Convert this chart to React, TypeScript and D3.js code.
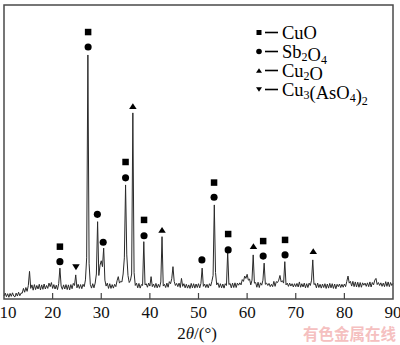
import { useEffect, useRef } from 'react';
import * as d3 from 'd3';

// XRD intensities, 2θ from 10° to 90° in steps of 0.25° (one row = 5°)
const thetaStart = 10;
const thetaStep = 0.25;
const intensity: number[] = [
  1.0, 2.0, 0.8, 1.8, 0.6, 1.9, 0.9, 2.1, 1.0, 0.7, 2.0, 1.0, 2.3, 1.1, 2.0, 2.0, 3.6, 2.3, 3.9, 2.6,
  4.6, 9.4, 3.6, 4.8, 3.0, 4.9, 3.2, 4.6, 3.4, 5.0, 3.1, 4.8, 3.3, 5.1, 3.4, 4.6, 3.6, 5.4, 4.2, 5.6,
  3.6, 4.9, 3.4, 4.7, 3.2, 5.2, 10.5, 4.4, 3.3, 4.8, 3.4, 4.9, 3.2, 4.8, 3.1, 4.9, 3.5, 5.3, 4.6, 8.2,
  3.8, 5.0, 3.6, 4.9, 3.5, 5.0, 4.2, 6.5, 14.0, 83.0, 12.0, 5.0, 3.7, 5.2, 3.8, 5.4, 8.5, 26.3, 8.0, 11.5,
  13.0, 11.0, 17.3, 6.4, 4.4, 5.4, 3.6, 5.2, 3.6, 4.9, 3.7, 5.0, 4.2, 6.2, 7.6, 5.4, 6.0, 5.8, 8.5, 14.0,
  38.8, 15.0, 8.0, 5.6, 6.3, 8.5, 63.3, 9.0, 4.6, 5.4, 3.8, 5.3, 3.7, 4.9, 4.6, 19.5, 4.8, 5.2, 4.0, 5.4,
  4.4, 7.6, 4.2, 5.1, 3.9, 5.3, 3.8, 5.0, 4.0, 5.8, 21.2, 4.4, 5.0, 3.9, 5.4, 4.0, 5.9, 5.2, 6.9, 11.0,
  6.0, 4.6, 5.3, 4.2, 5.4, 3.9, 7.0, 4.3, 5.2, 3.8, 5.0, 3.7, 4.8, 3.6, 5.3, 3.8, 5.2, 3.7, 5.1, 3.9,
  5.2, 3.8, 5.3, 10.5, 4.3, 5.1, 3.9, 5.0, 3.8, 5.2, 4.4, 6.0, 8.0, 32.0, 9.0, 4.8, 5.5, 3.9, 5.2, 3.8,
  5.1, 3.7, 5.2, 4.6, 16.0, 4.9, 5.3, 3.8, 5.4, 3.9, 5.5, 3.9, 5.4, 4.7, 5.5, 4.8, 6.6, 6.0, 7.8, 7.0,
  8.4, 6.4, 6.8, 4.8, 6.4, 15.0, 5.4, 5.6, 4.0, 5.7, 3.9, 5.5, 4.7, 6.4, 12.2, 5.0, 5.4, 4.6, 5.3, 4.2,
  5.0, 4.2, 6.0, 4.3, 5.9, 5.6, 6.4, 8.0, 5.8, 6.2, 5.4, 12.7, 4.8, 5.4, 4.3, 5.4, 4.4, 5.2, 4.1, 5.2,
  4.2, 5.3, 4.1, 5.8, 4.0, 5.2, 4.1, 5.4, 3.8, 5.2, 3.9, 5.4, 4.6, 6.4, 13.3, 4.9, 5.3, 3.8, 5.4, 3.9,
  5.0, 3.7, 5.1, 3.9, 5.2, 3.6, 5.1, 3.7, 5.3, 3.8, 5.2, 3.6, 5.1, 3.5, 5.0, 4.2, 5.1, 3.9, 5.0, 4.0,
  5.1, 4.2, 6.0, 7.8, 5.4, 6.0, 4.4, 6.0, 4.2, 5.8, 4.1, 5.7, 4.0, 5.6, 4.0, 5.5, 4.7, 5.4, 4.3, 5.5,
  4.2, 5.8, 4.1, 5.6, 4.8, 6.4, 7.0, 4.9, 5.6, 4.6, 5.5, 4.3, 5.4, 4.2, 5.9, 4.3, 5.8, 4.2, 5.6, 4.6,
  5.3,
];

// phases: symbol + label parts [text, subscript]
const phaseSymbols = ['square', 'circle', 'triangle', 'triangleDown'];
const phaseLabels = [
  [['Cu', ''], ['O', '']],
  [['Sb', '2'], ['O', '4']],
  [['Cu', '2'], ['O', '']],
  [['Cu', '3'], ['(AsO', '4'], [')', '2']],
];

// peak markers: 2θ, phase index, height level (intensity units)
const markTheta = [21.5, 21.5, 24.8, 27.3, 27.3, 29.2, 30.4, 35.0, 35.0, 36.5, 38.8, 38.8, 42.5, 50.7, 53.2, 53.2, 56.1, 56.1, 61.3, 63.3, 63.3, 67.8, 67.8, 73.6];
const markPhase = [0, 1, 3, 0, 1, 1, 1, 0, 1, 2, 0, 1, 2, 1, 0, 1, 0, 1, 2, 0, 1, 0, 1, 2];
const markLevel = [17.8, 12.7, 10.8, 90.8, 85.7, 28.8, 19.3, 46.6, 41.2, 65.6, 26.9, 21.5, 23.5, 13.3, 39.6, 34.6, 22.1, 16.7, 18.0, 19.7, 14.6, 20.1, 15.0, 16.3];

const xTicks = [10, 20, 30, 40, 50, 60, 70, 80, 90];

const W = 400;
const H = 345;
const serif = "'Liberation Serif', 'Times New Roman', Times, serif";

function drawSymbol(g: any, kind: string, cx: number, cy: number, s: number) {
  if (kind === 'square') {
    g.append('rect').attr('x', cx - s / 2).attr('y', cy - s / 2).attr('width', s).attr('height', s).attr('fill', '#000');
  } else if (kind === 'circle') {
    g.append('circle').attr('cx', cx).attr('cy', cy).attr('r', s / 2 + 0.3).attr('fill', '#000');
  } else if (kind === 'triangle') {
    const h = s * 0.9;
    g.append('path').attr('d', `M${cx - s / 2 - 0.5},${cy + h / 2}L${cx + s / 2 + 0.5},${cy + h / 2}L${cx},${cy - h / 2}Z`).attr('fill', '#000');
  } else {
    const h = s * 0.9;
    g.append('path').attr('d', `M${cx - s / 2 - 0.5},${cy - h / 2}L${cx + s / 2 + 0.5},${cy - h / 2}L${cx},${cy + h / 2}Z`).attr('fill', '#000');
  }
}

const App = () => {
  const svgRef = useRef<SVGSVGElement>(null);

  useEffect(() => {
    const svg = d3.select(svgRef.current);
    svg.selectAll('*').remove();

    const left = 4, right = 393, top = 5, bottom = 299;

    const x = d3.scaleLinear().domain([10, 90]).range([left, right]);
    const y = d3.scaleLinear().domain([0, 100]).range([bottom, top]);

    const data = intensity.map((v, i) => ({ t: thetaStart + i * thetaStep, v }));

    // curve
    const line = d3.line<{ t: number; v: number }>()
      .x(d => x(d.t))
      .y(d => y(d.v));

    svg.append('path')
      .datum(data)
      .attr('fill', 'none')
      .attr('stroke', '#2a2a2a')
      .attr('stroke-width', 1)
      .attr('d', line);

    // frame
    svg.append('rect')
      .attr('x', left).attr('y', top)
      .attr('width', right - left).attr('height', bottom - top)
      .attr('fill', 'none')
      .attr('stroke', '#4a4a4a')
      .attr('stroke-width', 1.5);

    // ticks pointing inward
    const axis = svg.append('g');
    xTicks.forEach((t, i) => {
      if (i > 0 && i < xTicks.length - 1) {
        axis.append('line')
          .attr('x1', x(t)).attr('x2', x(t))
          .attr('y1', bottom).attr('y2', bottom - 6)
          .attr('stroke', '#444').attr('stroke-width', 1.2);
      }
      axis.append('text')
        .attr('x', Math.max(x(t), 8))
        .attr('y', 318)
        .attr('text-anchor', 'middle')
        .attr('font-family', serif)
        .attr('font-size', 17)
        .attr('fill', '#111')
        .text(t);
    });

    // axis title 2θ/(°)
    const title = svg.append('text')
      .attr('x', 197)
      .attr('y', 339)
      .attr('text-anchor', 'middle')
      .attr('font-family', serif)
      .attr('font-size', 17)
      .attr('fill', '#111');
    title.append('tspan').text('2');
    title.append('tspan').attr('font-style', 'italic').text('θ');
    title.append('tspan').text('/(°)');

    // peak markers
    const marks = svg.append('g');
    markTheta.forEach((t, i) => {
      drawSymbol(marks, phaseSymbols[markPhase[i]], x(t), y(markLevel[i]), 6.5);
    });

    // legend
    const lg = svg.append('g');
    phaseLabels.forEach((parts, i) => {
      const cy = 32.5 + i * 19;
      drawSymbol(lg, phaseSymbols[i], 259, cy, 5);
      lg.append('line')
        .attr('x1', 265).attr('x2', 278)
        .attr('y1', cy).attr('y2', cy)
        .attr('stroke', '#000').attr('stroke-width', 1.6);
      const txt = lg.append('text')
        .attr('x', 282)
        .attr('y', cy + 6)
        .attr('font-family', serif)
        .attr('font-size', 18.5)
        .attr('fill', '#000');
      parts.forEach(([base, sub]) => {
        txt.append('tspan').text(base);
        if (sub) {
          txt.append('tspan').attr('dy', 3).attr('font-size', 12).text(sub);
          txt.append('tspan').attr('dy', -3).text('');
        }
      });
    });

    // watermark
    svg.append('text')
      .attr('x', 396)
      .attr('y', 339.5)
      .attr('text-anchor', 'end')
      .attr('font-family', "'Noto Sans CJK SC', sans-serif")
      .attr('font-size', 15.5)
      .attr('font-weight', 'bold')
      .attr('fill', '#f5c0c0')
      .text('有色金属在线');
  }, []);

  return (
    <svg
      ref={svgRef}
      width={W}
      height={H}
      style={{ position: 'absolute', left: 0, top: 0, background: '#fff' }}
    />
  );
};

export default App;
